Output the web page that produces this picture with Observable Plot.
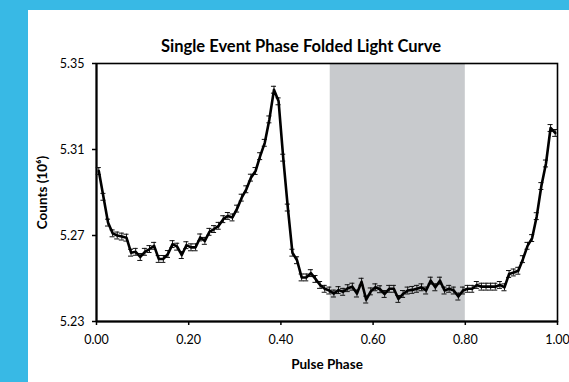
<!DOCTYPE html>
<html><head><meta charset="utf-8">
<script src="https://cdn.jsdelivr.net/npm/d3@7"></script>
<script src="https://cdn.jsdelivr.net/npm/@observablehq/plot@0.6"></script>
<style>
html,body{margin:0;padding:0;}
body{width:569px;height:382px;background:#38b9e5;position:relative;overflow:hidden;font-family:Lato,sans-serif;}
#panel{position:absolute;left:28px;top:10px;width:541px;height:372px;background:#fff;overflow:hidden;}
#panel svg{display:block;}
</style></head><body><div id="panel"></div>
<script>
const titleText = "Single Event Phase Folded Light Curve";
const yLabel = "Counts (10⁶)";
const xLabel = "Pulse Phase";
const xTicks = [0, 0.2, 0.4, 0.6, 0.8, 1.0];
const yTicks = [5.23, 5.27, 5.31, 5.35];
const phase = [0.005,0.015,0.025,0.035,0.045,0.055,0.065,0.075,0.085,0.095,
0.105,0.115,0.125,0.135,0.145,0.155,0.165,0.175,0.185,0.195,
0.205,0.215,0.225,0.235,0.245,0.255,0.265,0.275,0.285,0.295,
0.305,0.315,0.325,0.335,0.345,0.355,0.365,0.375,0.385,0.395,
0.405,0.415,0.425,0.435,0.445,0.455,0.465,0.475,0.485,0.495,
0.505,0.515,0.525,0.535,0.545,0.555,0.565,0.575,0.585,0.595,
0.605,0.615,0.625,0.635,0.645,0.655,0.665,0.675,0.685,0.695,
0.705,0.715,0.725,0.735,0.745,0.755,0.765,0.775,0.785,0.795,
0.805,0.815,0.825,0.835,0.845,0.855,0.865,0.875,0.885,0.895,
0.905,0.915,0.925,0.935,0.945,0.955,0.965,0.975,0.985,0.995];
const counts = [5.300,5.288,5.276,5.271,5.270,5.2695,5.269,5.262,5.2624,5.260,
5.2624,5.2637,5.2652,5.2591,5.2591,5.2614,5.2660,5.2648,5.2609,5.2655,
5.2645,5.2645,5.2691,5.2675,5.2717,5.2730,5.2745,5.2776,5.2791,5.2784,
5.2825,5.2876,5.2915,5.2969,5.3000,5.3069,5.3131,5.3240,5.3378,5.3324,
5.3062,5.2830,5.2620,5.2585,5.2505,5.2505,5.2525,5.2498,5.2470,5.2452,
5.2444,5.2430,5.2446,5.2438,5.2455,5.2462,5.2430,5.2485,5.2402,5.2440,
5.2459,5.2450,5.2428,5.2452,5.2452,5.2405,5.2428,5.2444,5.2447,5.2452,
5.2459,5.2444,5.2490,5.2459,5.2490,5.2444,5.2452,5.2444,5.2416,5.2444,
5.2452,5.2452,5.2470,5.2462,5.2462,5.2462,5.2462,5.2470,5.2459,5.2521,
5.2528,5.2536,5.2590,5.2652,5.2688,5.2790,5.2930,5.3035,5.3200,5.3177];
const errHalf = 0.0016;
const capHalf = 0.0055;
const shadeStart = 0.507, shadeEnd = 0.80;

const data = phase.map((p, i) => ({p, v: counts[i], lo: counts[i] - errHalf, hi: counts[i] + errHalf}));
const shade = [{x1: shadeStart, x2: shadeEnd, y1: 5.23, y2: 5.35}];

const chart = Plot.plot({
  width: 541, height: 372,
  marginLeft: 68, marginRight: 12, marginTop: 53, marginBottom: 61,
  style: {fontFamily: "Lato, sans-serif", fontSize: "12px", color: "#000", background: "transparent", overflow: "visible"},
  x: {domain: [0, 1]},
  y: {domain: [5.23, 5.35]},
  marks: [
    Plot.rect(shade, {x1: "x1", x2: "x2", y1: "y1", y2: "y2", fill: "#c8cacd"}),
    Plot.frame({stroke: "#000", strokeWidth: 1.6}),
    Plot.axisX({ticks: xTicks, tickFormat: ".2f", tickSize: 4, tickPadding: 10, label: null, strokeWidth: 1.5, fontSize: 12.5}),
    Plot.axisY({ticks: yTicks, tickFormat: ".2f", tickSize: 4, tickPadding: 8, label: null, strokeWidth: 1.5, fontSize: 12.5}),
    Plot.ruleX([0], {stroke: "#000", strokeWidth: 2}),
    Plot.ruleY([5.23], {stroke: "#000", strokeWidth: 2}),
    Plot.ruleX(data, {x: "p", y1: "lo", y2: "hi", stroke: "#111", strokeWidth: 1}),
    Plot.ruleY(data, {y: "hi", x1: d => d.p - capHalf, x2: d => d.p + capHalf, stroke: "#111", strokeWidth: 1}),
    Plot.ruleY(data, {y: "lo", x1: d => d.p - capHalf, x2: d => d.p + capHalf, stroke: "#111", strokeWidth: 1}),
    Plot.line(data, {x: "p", y: "v", stroke: "#000", strokeWidth: 2.6, strokeLinejoin: "round"}),
    Plot.text([titleText], {text: d => d, frameAnchor: "top", textAnchor: "middle", dx: -26, dy: -23, fontWeight: "bold", fontSize: 16.5}),
    Plot.text([yLabel], {text: d => d, frameAnchor: "left", textAnchor: "middle", dx: -54, rotate: -90, fontWeight: "bold", fontSize: 13.5}),
    Plot.text([xLabel], {text: d => d, frameAnchor: "bottom", textAnchor: "middle", dy: 47, fontWeight: "bold", fontSize: 13.5})
  ]
});
document.getElementById("panel").appendChild(chart);
</script>
</body></html>
